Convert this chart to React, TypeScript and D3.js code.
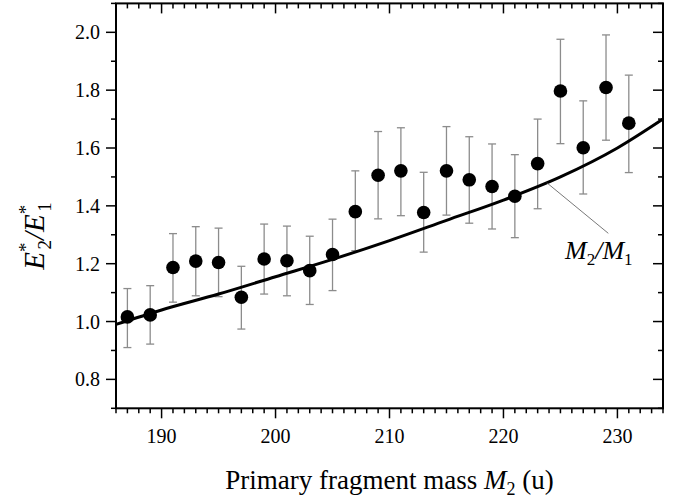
import React from "react";
import * as d3 from "d3";

const W = 687;
const H = 499;

const massX = [187, 189, 191, 193, 195, 197, 199, 201, 203, 205, 207, 209, 211, 213, 215, 217, 219, 221, 223, 225, 227, 229, 231];
const ratioY = [1.016, 1.023, 1.187, 1.209, 1.204, 1.084, 1.216, 1.21, 1.176, 1.232, 1.38, 1.506, 1.521, 1.377, 1.521, 1.49, 1.467, 1.433, 1.546, 1.797, 1.601, 1.809, 1.686];
const errUpper = [1.114, 1.124, 1.304, 1.328, 1.323, 1.191, 1.337, 1.33, 1.295, 1.354, 1.521, 1.657, 1.67, 1.516, 1.674, 1.639, 1.614, 1.577, 1.7, 1.976, 1.763, 1.991, 1.852];
const errLower = [0.91, 0.922, 1.067, 1.089, 1.086, 0.974, 1.095, 1.089, 1.059, 1.107, 1.245, 1.355, 1.366, 1.24, 1.368, 1.34, 1.32, 1.29, 1.39, 1.615, 1.441, 1.627, 1.515];

// M2/M1 curve, values
const curveX = [186, 190, 195, 200, 205, 210, 215, 220, 225, 230, 234];
const curveY = [0.99, 1.04, 1.095, 1.155, 1.215, 1.28, 1.35, 1.42, 1.5, 1.6, 1.7];

const xMajorTicks = [190, 200, 210, 220, 230];
const yMajorTicks = [0.8, 1.0, 1.2, 1.4, 1.6, 1.8, 2.0];

const FONT = "'Liberation Serif', 'Times New Roman', serif";

export default function App() {
  const left = 116, right = 663, top = 3.4, bottom = 408.3;
  const x = d3.scaleLinear().domain([186, 234]).range([left, right]);
  const y = d3.scaleLinear().domain([0.7, 2.1]).range([bottom, top]);

  const xMinor = d3.range(186, 234.001, 1).filter((v) => !xMajorTicks.includes(v));
  const yMinor = d3.range(7, 21.001, 1).map((v) => v / 10).filter((v) => !yMajorTicks.some((m) => Math.abs(m - v) < 1e-6));

  const line = d3
    .line<number>()
    .x((_, i) => x(curveX[i]))
    .y((d) => y(d))
    .curve(d3.curveMonotoneX);

  const cap = 4;

  return (
    <div style={{ position: "fixed", left: 0, top: 0, background: "#fff" }}>
      <svg width={W} height={H} style={{ display: "block" }}>
        <rect width={W} height={H} fill="#fff" />
        {/* error bars */}
        {massX.map((m, i) => (
          <g key={"e" + i} stroke="#8c8c8c" strokeWidth={1.3}>
            <line x1={x(m)} x2={x(m)} y1={y(errUpper[i])} y2={y(errLower[i])} />
            <line x1={x(m) - cap} x2={x(m) + cap} y1={y(errUpper[i])} y2={y(errUpper[i])} />
            <line x1={x(m) - cap} x2={x(m) + cap} y1={y(errLower[i])} y2={y(errLower[i])} />
          </g>
        ))}
        {/* curve */}
        <path d={line(curveY) || ""} fill="none" stroke="#000" strokeWidth={3} />
        {/* points */}
        {massX.map((m, i) => (
          <circle key={"p" + i} cx={x(m)} cy={y(ratioY[i])} r={6.8} fill="#000" />
        ))}
        {/* leader line and label */}
        <line x1={x(223.8)} y1={y(1.48)} x2={x(229.2)} y2={y(1.305)} stroke="#555" strokeWidth={0.8} />
        <text x={x(225.4)} y={y(1.217)} fontFamily={FONT} fontSize={26} fontStyle="italic">
          M<tspan fontSize={17} dy={6} fontStyle="normal">2</tspan>
          <tspan dy={-6}>/M</tspan>
          <tspan fontSize={17} dy={6} fontStyle="normal">1</tspan>
        </text>

        {/* frame */}
        <rect x={left} y={top} width={right - left} height={bottom - top} fill="none" stroke="#000" strokeWidth={2} />

        {/* x ticks bottom (outward) and top (inward) */}
        {xMinor.map((v) => (
          <g key={"xm" + v} stroke="#000" strokeWidth={1.5}>
            <line x1={x(v)} x2={x(v)} y1={bottom} y2={bottom + 5} />
            <line x1={x(v)} x2={x(v)} y1={top} y2={top + 5} />
          </g>
        ))}
        {xMajorTicks.map((v) => (
          <g key={"xM" + v}>
            <line x1={x(v)} x2={x(v)} y1={bottom} y2={bottom + 10} stroke="#000" strokeWidth={1.5} />
            <line x1={x(v)} x2={x(v)} y1={top} y2={top + 10} stroke="#000" strokeWidth={1.5} />
            <text x={x(v)} y={443} textAnchor="middle" fontFamily={FONT} fontSize={20}>
              {v}
            </text>
          </g>
        ))}
        {/* y ticks left (outward) and right (inward) */}
        {yMinor.map((v) => (
          <g key={"ym" + v} stroke="#000" strokeWidth={1.5}>
            <line x1={left - 5} x2={left} y1={y(v)} y2={y(v)} />
            <line x1={right - 5} x2={right} y1={y(v)} y2={y(v)} />
          </g>
        ))}
        {yMajorTicks.map((v) => (
          <g key={"yM" + v}>
            <line x1={left - 10} x2={left} y1={y(v)} y2={y(v)} stroke="#000" strokeWidth={1.5} />
            <line x1={right - 10} x2={right} y1={y(v)} y2={y(v)} stroke="#000" strokeWidth={1.5} />
            <text x={left - 16} y={y(v)} dy="0.35em" textAnchor="end" fontFamily={FONT} fontSize={20}>
              {v.toFixed(1)}
            </text>
          </g>
        ))}

        {/* axis titles */}
        <text x={(left + right) / 2} y={489} textAnchor="middle" fontFamily={FONT} fontSize={27}>
          Primary fragment mass <tspan fontStyle="italic">M</tspan>
          <tspan fontSize={18} dy={6}>2</tspan>
          <tspan dy={-6}> (u)</tspan>
        </text>
        <text transform={`translate(44, 236) rotate(-90)`} textAnchor="middle" fontFamily={FONT} fontSize={29} fontStyle="italic">
          E<tspan fontSize={19} dy={-12} fontStyle="normal">*</tspan>
          <tspan fontSize={19} dx={-7} dy={19} fontStyle="normal">2</tspan>
          <tspan dy={-7}>/E</tspan>
          <tspan fontSize={19} dy={-12} fontStyle="normal">*</tspan>
          <tspan fontSize={19} dx={-7} dy={19} fontStyle="normal">1</tspan>
        </text>
      </svg>
    </div>
  );
}
